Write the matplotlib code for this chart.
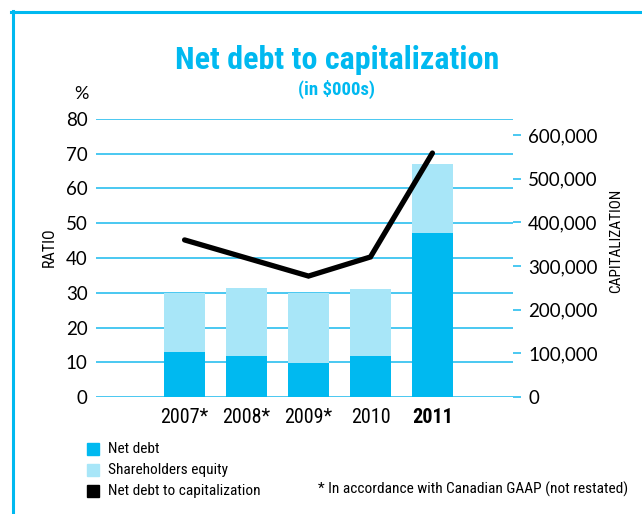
import matplotlib.pyplot as plt
from matplotlib.lines import Line2D
from matplotlib.ticker import FuncFormatter

# data
years = ["2007*", "2008*", "2009*", "2010", "2011"]
net_debt = [13.0, 11.8, 9.8, 11.8, 47.3]
total_cap = [30.0, 31.4, 30.0, 31.0, 67.0]
equity = [t - d for t, d in zip(total_cap, net_debt)]
debt_ratio = [45.2, 40.0, 34.8, 40.3, 70.2]
cap_ticks = [0, 100000, 200000, 300000, 400000, 500000, 600000]

CYAN = "#00B9F0"
LIGHT = "#A8E6F8"
GRID = "#3CC4F0"
narrow = ["Roboto Condensed", "Barlow Condensed", "Archivo Narrow", "DejaVu Sans"]
regular = ["Lato", "Liberation Sans", "DejaVu Sans"]

fig = plt.figure(figsize=(6.42, 5.14), dpi=100)
ax = fig.add_axes([0.1495, 0.2276, 0.6495, 0.5409])
x = list(range(len(years)))

ax.bar(x, net_debt, width=0.66, color=CYAN, zorder=2, label="Net debt")
ax.bar(x, equity, width=0.66, bottom=net_debt, color=LIGHT, zorder=2,
       label="Shareholders equity")
ax.plot(x, debt_ratio, color="black", lw=3.8, zorder=3,
        solid_capstyle="round", solid_joinstyle="miter",
        label="Net debt to capitalization")

ax.set_xlim(-1.43, 5.30)
ax.set_ylim(0, 80)
ax.set_yticks(range(0, 81, 10))
for v in range(0, 81, 10):
    ax.axhline(v, color=GRID, lw=1.3, zorder=1)
for s in ax.spines.values():
    s.set_visible(False)
ax.tick_params(axis="y", length=0, pad=6, labelsize=13.5)
for t in ax.get_yticklabels():
    t.set_family(regular)
ax.set_xticks(x)
ax.set_xticklabels(years, family=narrow, fontsize=14.5)
ax.tick_params(axis="x", length=0, pad=8)
ax.get_xticklabels()[-1].set_fontweight("bold")

# capitalization scale on the right
ax2 = ax.twinx()
ax2.set_ylim(0, 636600)
ax2.set_yticks(cap_ticks)
ax2.yaxis.set_major_formatter(FuncFormatter(lambda v, p: f"{int(v):,}"))
for s in ax2.spines.values():
    s.set_visible(False)
ax2.tick_params(axis="y", direction="out", length=6, width=1.3, color=GRID,
                pad=5, labelsize=13.5)
for t in ax2.get_yticklabels():
    t.set_family(regular)

fig.text(337 / 642, 1 - 60 / 514, "Net debt to capitalization", family=narrow,
         fontweight="bold", fontsize=23, color=CYAN, ha="center", va="center")
fig.text(337 / 642, 1 - 89 / 514, "(in $000s)", family=narrow,
         fontweight="bold", fontsize=13.5, color=CYAN, ha="center", va="center")
fig.text(81 / 642, 1 - 94 / 514, "%", family=regular, fontsize=13,
         ha="center", va="center")
fig.text(49 / 642, 1 - 247 / 514, "RATIO", family=narrow, fontsize=11.5,
         rotation=90, ha="center", va="center")
fig.text(616 / 642, 1 - 241 / 514, "CAPITALIZATION", family=narrow, fontsize=11,
         rotation=90, ha="center", va="center")

# legend drawn by hand as squares + labels
legend_items = [("Net debt", CYAN), ("Shareholders equity", LIGHT),
                ("Net debt to capitalization", "black")]
for i, (name, col) in enumerate(legend_items):
    yc = 449 + i * 21
    fig.patches.append(plt.Rectangle((87 / 642, 1 - (yc + 6) / 514), 12 / 642, 12 / 514,
                                     transform=fig.transFigure, color=col))
    fig.text(108 / 642, 1 - yc / 514, name, family=narrow, fontsize=11.1,
             ha="left", va="center")
fig.text(628 / 642, 1 - 489 / 514, "* In accordance with Canadian GAAP (not restated)",
         family=narrow, fontsize=11.1, ha="right", va="center")

# frame
fig.add_artist(Line2D([12.5 / 642, 12.5 / 642], [0, 1 - 11 / 514], color=CYAN, lw=2.2,
                      transform=fig.transFigure))
fig.add_artist(Line2D([11.5 / 642, 1], [1 - 11.5 / 514, 1 - 11.5 / 514], color=CYAN, lw=2.2,
                      transform=fig.transFigure))

fig.savefig("out.png", dpi=100)
